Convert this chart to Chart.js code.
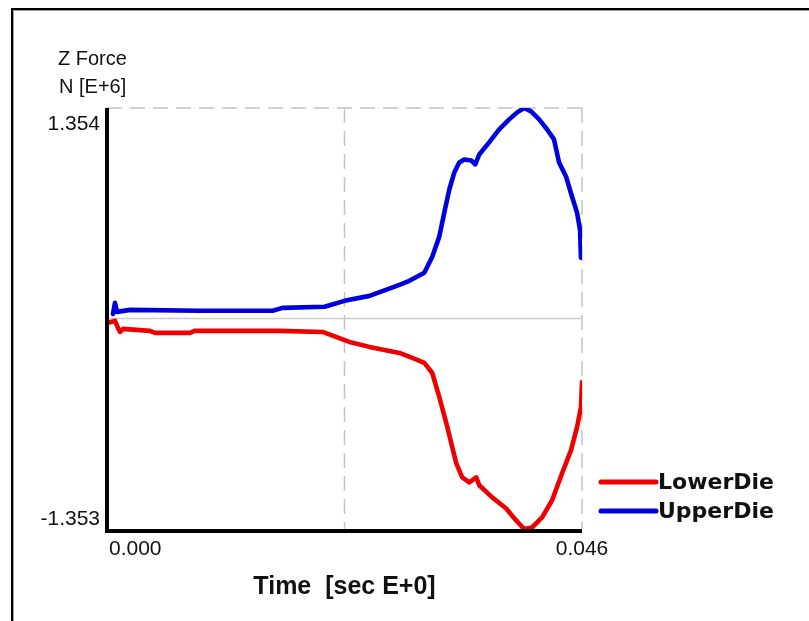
<!DOCTYPE html>
<html>
<head>
<meta charset="utf-8">
<script src="https://cdn.jsdelivr.net/npm/chart.js@4/dist/chart.umd.min.js"></script>
<style>
  html, body { margin: 0; padding: 0; background: #fff; }
  #wrap { position: relative; width: 809px; height: 621px; }
</style>
</head>
<body>
<div id="wrap"><canvas id="c" width="809" height="621"></canvas></div>
<script>
// ---- data (time in sec, force in N E+6) ----
const xMin = 0.000, xMax = 0.046;
const yMin = -1.353, yMax = 1.354;
const xTickLabels = ['0.000', '0.046'];
const yTickLabels = ['1.354', '-1.353'];
const yTitleLines = ['Z Force', 'N [E+6]'];
const xTitle = 'Time  [sec E+0]';
const seriesNames = ['LowerDie', 'UpperDie'];

const timeLower = [0.0000, 0.00077, 0.00106, 0.00126, 0.00155, 0.00416, 0.00464, 0.00802, 0.00850, 0.01672,
  0.02087, 0.02348, 0.02542, 0.02832, 0.02957, 0.03073, 0.03150, 0.03218, 0.03286, 0.03334,
  0.03382, 0.03440, 0.03508, 0.03576, 0.03605, 0.03730, 0.03866, 0.03962, 0.04040, 0.04117,
  0.04213, 0.04310, 0.04407, 0.04494, 0.04552, 0.04590, 0.04600];
const lowerDie = [-0.028, -0.015, -0.060, -0.086, -0.066, -0.079, -0.092, -0.092, -0.079, -0.079,
  -0.086, -0.150, -0.182, -0.221, -0.253, -0.285, -0.350, -0.505, -0.672, -0.801,
  -0.930, -1.021, -1.053, -1.021, -1.072, -1.150, -1.221, -1.298, -1.353, -1.343,
  -1.279, -1.169, -0.995, -0.846, -0.698, -0.569, -0.408];

const timeUpper = [0.00058, 0.00077, 0.00097, 0.00222, 0.00899, 0.01604, 0.01701, 0.02107, 0.02300, 0.02542,
  0.02832, 0.02928, 0.03073, 0.03150, 0.03218, 0.03266, 0.03315, 0.03363, 0.03411, 0.03460,
  0.03527, 0.03566, 0.03605, 0.03701, 0.03798, 0.03895, 0.03972, 0.04040, 0.04107, 0.04185,
  0.04262, 0.04329, 0.04378, 0.04445, 0.04503, 0.04552, 0.04581, 0.04590];
const upperDie = [0.030, 0.101, 0.043, 0.056, 0.050, 0.050, 0.069, 0.076, 0.114, 0.146,
  0.217, 0.243, 0.295, 0.398, 0.527, 0.681, 0.830, 0.939, 1.004, 1.023,
  1.017, 0.991, 1.055, 1.133, 1.216, 1.281, 1.326, 1.354, 1.332, 1.281,
  1.216, 1.152, 1.004, 0.914, 0.785, 0.681, 0.571, 0.391];

const lowerColor = '#ee0000';
const upperColor = '#0000dd';

function pts(xs, ys) { return xs.map((x, i) => ({ x: x, y: ys[i] })); }

const decor = {
  id: 'decor',
  beforeDraw(chart) {
    const ctx = chart.ctx;
    ctx.save();
    ctx.fillStyle = '#ffffff';
    ctx.fillRect(0, 0, chart.width, chart.height);
    // window frame
    ctx.fillStyle = '#000000';
    ctx.fillRect(11, 8, chart.width - 11, 2);
    ctx.fillRect(11, 8, 2, chart.height - 8);
    ctx.fillStyle = '#a0a0a0';
    ctx.fillRect(13, 10, chart.width - 13, 1);
    ctx.fillRect(13, 10, 1, chart.height - 10);
    ctx.restore();
  },
  beforeDatasetsDraw(chart) {
    const ctx = chart.ctx;
    const xs = chart.scales.x, ys = chart.scales.y;
    const l = xs.getPixelForValue(xMin), r = xs.getPixelForValue(xMax);
    const t = ys.getPixelForValue(yMax), b = ys.getPixelForValue(yMin);
    const xm = xs.getPixelForValue((xMin + xMax) / 2);
    const y0 = ys.getPixelForValue(0);
    ctx.save();
    ctx.strokeStyle = '#c4c4c4';
    ctx.lineWidth = 1.5;
    ctx.setLineDash([15, 8]);
    ctx.beginPath();
    ctx.moveTo(l, t); ctx.lineTo(r, t);
    ctx.moveTo(r, t); ctx.lineTo(r, b);
    ctx.moveTo(xm, t); ctx.lineTo(xm, b);
    ctx.stroke();
    ctx.setLineDash([]);
    ctx.strokeStyle = '#cccccc';
    ctx.beginPath();
    ctx.moveTo(l, y0); ctx.lineTo(r, y0);
    ctx.stroke();
    ctx.restore();
  },
  afterDatasetsDraw(chart) {
    const ctx = chart.ctx;
    const xs = chart.scales.x, ys = chart.scales.y;
    const l = xs.getPixelForValue(xMin), r = xs.getPixelForValue(xMax);
    const t = ys.getPixelForValue(yMax), b = ys.getPixelForValue(yMin);
    ctx.save();
    // axes
    ctx.strokeStyle = '#000000';
    ctx.lineWidth = 4;
    ctx.beginPath();
    ctx.moveTo(l, t); ctx.lineTo(l, b + 4);
    ctx.moveTo(l - 2, b + 2); ctx.lineTo(r, b + 2);
    ctx.stroke();
    // tick labels
    ctx.fillStyle = '#111111';
    ctx.font = '21px "Liberation Sans", Arial, sans-serif';
    ctx.textBaseline = 'alphabetic';
    ctx.textAlign = 'right';
    ctx.fillText(yTickLabels[0], l - 7, t + 22);
    ctx.fillText(yTickLabels[1], l - 7, b - 4);
    ctx.textAlign = 'left';
    ctx.fillText(xTickLabels[0], l + 2, b + 26);
    ctx.textAlign = 'center';
    ctx.fillText(xTickLabels[1], r, b + 26);
    // y title
    ctx.font = '20px "Liberation Sans", Arial, sans-serif';
    ctx.textAlign = 'left';
    ctx.fillText(yTitleLines[0], 58, 65);
    ctx.fillText(yTitleLines[1], 59, 93);
    // x title
    ctx.font = 'bold 25px "Liberation Sans", Arial, sans-serif';
    ctx.textAlign = 'center';
    ctx.fillText(xTitle, (l + r) / 2, 594);
    // legend
    ctx.font = 'bold 22px "DejaVu Sans", sans-serif';
    ctx.textAlign = 'left';
    const items = chart.data.datasets;
    const rows = [482, 511];
    items.forEach((ds, i) => {
      ctx.strokeStyle = ds.borderColor;
      ctx.lineWidth = 5;
      ctx.lineCap = 'round';
      ctx.beginPath();
      ctx.moveTo(601, rows[i]); ctx.lineTo(656, rows[i]);
      ctx.stroke();
      ctx.fillText(ds.label, 658, rows[i] + 7);
    });
    ctx.restore();
  }
};

new Chart(document.getElementById('c'), {
  type: 'scatter',
  data: {
    datasets: [
      { label: seriesNames[0], data: pts(timeLower, lowerDie), showLine: true, borderColor: lowerColor,
        backgroundColor: lowerColor, borderWidth: 4.6, pointRadius: 0, tension: 0,
        borderJoinStyle: 'round', borderCapStyle: 'round' },
      { label: seriesNames[1], data: pts(timeUpper, upperDie), showLine: true, borderColor: upperColor,
        backgroundColor: upperColor, borderWidth: 4.6, pointRadius: 0, tension: 0,
        borderJoinStyle: 'round', borderCapStyle: 'round' }
    ]
  },
  options: {
    responsive: false,
    animation: false,
    layout: { padding: { left: 0, top: 108, right: 227, bottom: 0 } },
    plugins: { legend: { display: false }, tooltip: { enabled: false } },
    scales: {
      x: {
        type: 'linear', min: xMin, max: xMax,
        grid: { display: false }, border: { display: false },
        ticks: { display: false },
        afterFit(s) { s.height = 92; }
      },
      y: {
        type: 'linear', min: yMin, max: yMax,
        grid: { display: false }, border: { display: false },
        ticks: { display: false },
        afterFit(s) { s.width = 107; }
      }
    }
  },
  plugins: [decor]
});
</script>
</body>
</html>
